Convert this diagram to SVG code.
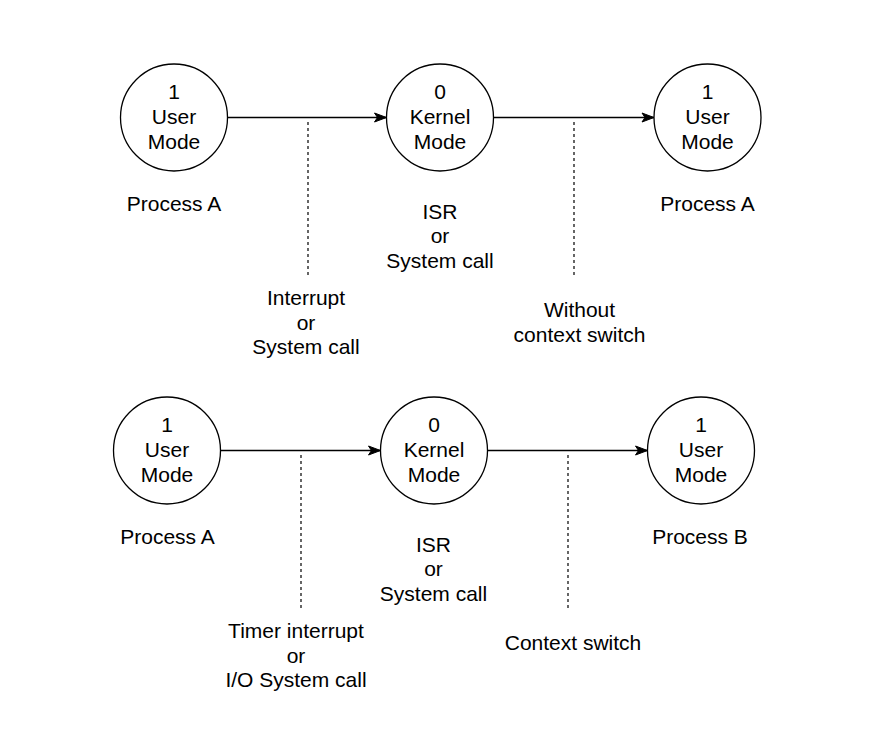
<svg xmlns="http://www.w3.org/2000/svg" width="872" height="736" viewBox="0 0 872 736">
<defs>
<style>
.node circle{fill:#fff;stroke:#000;stroke-width:1.3}
text{font-family:"Liberation Sans",Arial,Helvetica,sans-serif;font-size:21px;fill:#000;text-anchor:middle}
.edge{stroke:#000;stroke-width:1.3;fill:none}
.dash{stroke:#000;stroke-width:1.2;stroke-dasharray:3 3;fill:none}
</style>
<marker id="arrow" markerUnits="userSpaceOnUse" markerWidth="14" markerHeight="12" refX="13" refY="6" orient="auto">
<path d="M13,6 L1,1.5 L4,6 L1,10.5 Z" fill="#000" stroke="#000" stroke-width="1"/>
</marker>
</defs>
<rect width="872" height="736" fill="#fff"/>
<g id="connectors">
<line class="edge" x1="227.5" y1="117.5" x2="386.5" y2="117.5" marker-end="url(#arrow)"/>
<line class="edge" x1="493.5" y1="117.5" x2="654" y2="117.5" marker-end="url(#arrow)"/>
<line class="dash" x1="308" y1="122" x2="308" y2="277"/>
<line class="dash" x1="574" y1="122" x2="574" y2="277"/>
<line class="edge" x1="220.5" y1="450.5" x2="380.5" y2="450.5" marker-end="url(#arrow)"/>
<line class="edge" x1="487.5" y1="450.5" x2="647.5" y2="450.5" marker-end="url(#arrow)"/>
<line class="dash" x1="301" y1="455" x2="301" y2="610"/>
<line class="dash" x1="568" y1="455" x2="568" y2="610"/>
</g>
<g id="top-user-a" class="node">
<circle cx="174" cy="117.5" r="53.5"/>
<text x="174" y="98.5">1</text>
<text x="174" y="123.5">User</text>
<text x="174" y="148.5">Mode</text>
</g>
<g id="top-kernel" class="node">
<circle cx="440" cy="117.5" r="53.5"/>
<text x="440" y="98.5">0</text>
<text x="440" y="123.5">Kernel</text>
<text x="440" y="148.5">Mode</text>
</g>
<g id="top-user-a2" class="node">
<circle cx="707.5" cy="117.5" r="53.5"/>
<text x="707.5" y="98.5">1</text>
<text x="707.5" y="123.5">User</text>
<text x="707.5" y="148.5">Mode</text>
</g>
<g id="top-labels">
<text x="174" y="210.5">Process A</text>
<text x="707.5" y="210.5">Process A</text>
<text x="440" y="218.5">ISR</text>
<text x="440" y="243.2">or</text>
<text x="440" y="268">System call</text>
<text x="306" y="305">Interrupt</text>
<text x="306" y="329.6">or</text>
<text x="306" y="354.3">System call</text>
<text x="579.5" y="317">Without</text>
<text x="579.5" y="341.6">context switch</text>
</g>
<g id="bottom-user-a" class="node">
<circle cx="167" cy="450.5" r="53.5"/>
<text x="167" y="431.5">1</text>
<text x="167" y="456.5">User</text>
<text x="167" y="481.5">Mode</text>
</g>
<g id="bottom-kernel" class="node">
<circle cx="434" cy="450.5" r="53.5"/>
<text x="434" y="431.5">0</text>
<text x="434" y="456.5">Kernel</text>
<text x="434" y="481.5">Mode</text>
</g>
<g id="bottom-user-b" class="node">
<circle cx="701" cy="450.5" r="53.5"/>
<text x="701" y="431.5">1</text>
<text x="701" y="456.5">User</text>
<text x="701" y="481.5">Mode</text>
</g>
<g id="bottom-labels">
<text x="167.5" y="543.5">Process A</text>
<text x="700" y="543.5">Process B</text>
<text x="433.5" y="551.5">ISR</text>
<text x="433.5" y="576.2">or</text>
<text x="433.5" y="601">System call</text>
<text x="296" y="638">Timer interrupt</text>
<text x="296" y="662.6">or</text>
<text x="296" y="687.3">I/O System call</text>
<text x="573" y="650">Context switch</text>
</g>
</svg>
